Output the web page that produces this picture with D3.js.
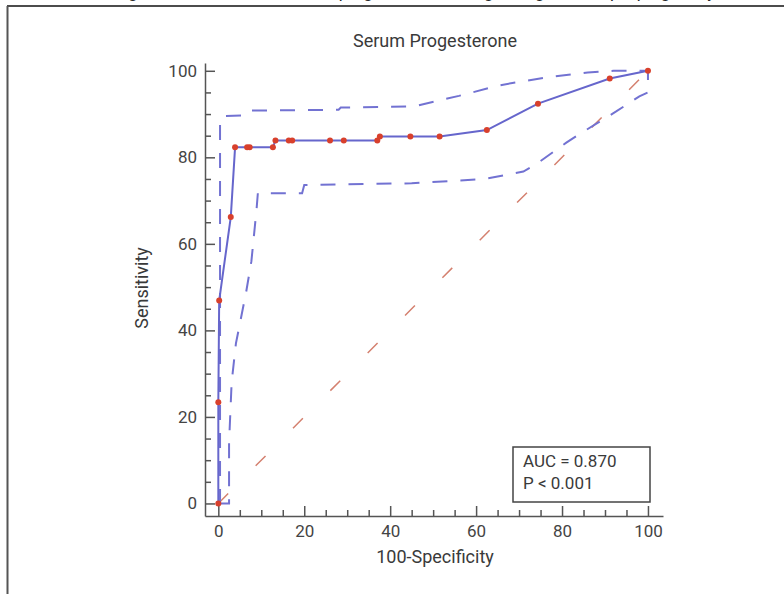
<!DOCTYPE html>
<html>
<head>
<meta charset="utf-8">
<script src="https://d3js.org/d3.v7.min.js"></script>
<style>
  body { margin: 0; background: #fff; }
  svg text { font-family: Roboto, "Noto Sans", sans-serif; fill: #3a3a3a; }
  .axis path, .axis line { stroke: #555; stroke-width: 1.5px; }
  .axis text { font-size: 17px; fill: #444; }
</style>
</head>
<body>
<div id="chart"></div>
<script>
  // ROC curve points (100-Specificity, Sensitivity)
  const rocFpr = [0, 0, 0.2, 2.9, 3.9, 6.7, 7.3, 12.7, 13.3, 16.4, 17.2, 26.0, 29.2, 37.0, 37.6, 44.7, 51.5, 62.5, 74.4, 91.1, 100];
  const rocTpr = [0, 23.4, 46.9, 66.2, 82.3, 82.3, 82.3, 82.3, 83.9, 83.9, 83.9, 83.9, 83.9, 83.9, 84.8, 84.8, 84.8, 86.3, 92.4, 98.2, 100];

  // upper confidence bound
  const upperFpr = [0, 0.4, 0.4, 1, 6.6, 7.7, 28, 28.5, 45.6, 56, 65.3, 69.1, 78, 81.5, 86, 92, 100];
  const upperTpr = [0, 0.5, 88.6, 89.5, 89.7, 90.8, 91, 91.5, 91.8, 94.2, 96.6, 97.3, 98.7, 99.1, 99.6, 100, 100];

  // lower confidence bound
  const lowerFpr = [0, 2.5, 2.5, 3.1, 4.1, 6.5, 7.7, 8.9, 9.2, 19.5, 20, 45, 62, 71, 73.8, 81, 84.6, 92.6, 98, 100, 100];
  const lowerTpr = [0, 0, 14, 28, 37, 49, 56, 68, 71.7, 71.7, 73.6, 74, 75, 76.7, 78.3, 83.4, 85.7, 90.6, 94.1, 95, 100];

  const majorTicks = [0, 20, 40, 60, 80, 100];
  const minorTicks = d3.range(0, 101, 5).filter(v => v % 20 !== 0);
  const statLines = ["AUC = 0.870", "P < 0.001"];

  const width = 784, height = 594;
  const svg = d3.select("#chart").append("svg")
    .attr("width", width).attr("height", height);

  // outer frame (continues past the picture edge)
  svg.append("line").attr("x1", 7).attr("y1", 6).attr("x2", width + 5).attr("y2", 6)
    .attr("stroke", "#111").attr("stroke-width", 1.5);
  svg.append("line").attr("x1", 7.5).attr("y1", 6).attr("x2", 7.5).attr("y2", height + 5)
    .attr("stroke", "#555").attr("stroke-width", 2);

  // caption text cut off above the frame (only descenders show)
  svg.append("text").attr("x", 415).attr("y", -2).attr("text-anchor", "middle")
    .style("font-size", "17px").style("fill", "#222")
    .text("Figure 2: ROC curve of serum progesterone in diagnosing the ectopic pregnancy");

  const x = d3.scaleLinear().domain([-3.1, 103.5]).range([205, 663]);
  const y = d3.scaleLinear().domain([-2.9, 101.8]).range([516, 63]);

  // axes: major ticks inward + minor ticks
  const gx = svg.append("g").attr("class", "axis").attr("transform", `translate(0,${y(-2.9)})`);
  gx.call(d3.axisBottom(x).tickValues(majorTicks).tickSizeInner(-10).tickSizeOuter(0).tickPadding(9));
  gx.append("g").call(d3.axisBottom(x).tickValues(minorTicks).tickSizeInner(-6).tickSizeOuter(0).tickFormat(""))
    .select(".domain").remove();

  const gy = svg.append("g").attr("class", "axis").attr("transform", `translate(${x(-3.1)},0)`);
  gy.call(d3.axisLeft(y).tickValues(majorTicks).tickSizeInner(-10).tickSizeOuter(0).tickPadding(8));
  gy.append("g").call(d3.axisLeft(y).tickValues(minorTicks).tickSizeInner(-6).tickSizeOuter(0).tickFormat(""))
    .select(".domain").remove();

  // titles
  svg.append("text").attr("x", 435).attr("y", 47).attr("text-anchor", "middle")
    .style("font-size", "18px").text("Serum Progesterone");
  svg.append("text").attr("x", 435).attr("y", 563).attr("text-anchor", "middle")
    .style("font-size", "18px").text("100-Specificity");
  svg.append("text").attr("transform", "translate(148,288) rotate(-90)").attr("text-anchor", "middle")
    .style("font-size", "18px").text("Sensitivity");

  const line = d3.line().x(d => x(d[0])).y(d => y(d[1]));

  // reference diagonal
  svg.append("path").datum([[0, 0], [100, 100]])
    .attr("d", line).attr("fill", "none")
    .attr("stroke", "#d4806f").attr("stroke-width", 1.5).attr("stroke-dasharray", "14,39");

  // confidence bounds
  const upper = upperFpr.map((v, i) => [v, upperTpr[i]]);
  const lower = lowerFpr.map((v, i) => [v, lowerTpr[i]]);
  [upper, lower].forEach(pts => {
    svg.append("path").datum(pts)
      .attr("d", line).attr("fill", "none")
      .attr("stroke", "#7272d2").attr("stroke-width", 2).attr("stroke-dasharray", "15,13");
  });

  // ROC curve
  const roc = rocFpr.map((v, i) => [v, rocTpr[i]]);
  svg.append("path").datum(roc)
    .attr("d", line).attr("fill", "none")
    .attr("stroke", "#6666cc").attr("stroke-width", 2);
  svg.selectAll(".pt").data(roc).enter().append("circle")
    .attr("class", "pt")
    .attr("cx", d => x(d[0])).attr("cy", d => y(d[1])).attr("r", 3)
    .attr("fill", "#d8402c");

  // statistics box
  svg.append("rect").attr("x", 513).attr("y", 447).attr("width", 137).attr("height", 55)
    .attr("fill", "#fff").attr("stroke", "#444").attr("stroke-width", 1.5);
  svg.selectAll(".stat").data(statLines).enter().append("text")
    .attr("class", "stat")
    .attr("x", 523).attr("y", (d, i) => 467 + i * 22)
    .style("font-size", "17px").text(d => d);
</script>
</body>
</html>
